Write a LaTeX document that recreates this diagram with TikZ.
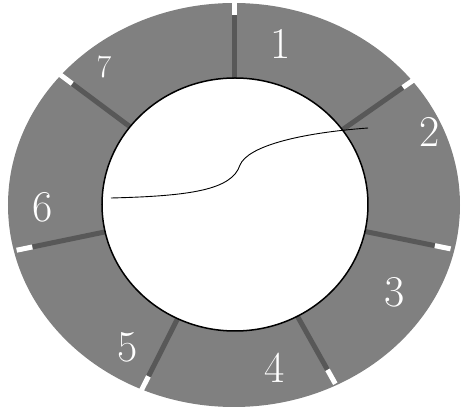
\documentclass[tikz,border=0pt]{standalone}
\usepackage{tikz}
\definecolor{ringgrey}{RGB}{128,128,128}
\definecolor{bandgrey}{RGB}{88,88,88}

\begin{document}
\begin{tikzpicture}[
      x=1pt, y=1pt,
      seglabel/.style={text=white, inner sep=0pt, font=\fontsize{44}{44}\selectfont},
      band/.style={draw=bandgrey, line width=5pt},
      notch/.style={draw=white, line width=5pt},
      hole/.style={fill=white, draw=black, line width=1.5pt},
      wire/.style={draw=black, line width=0.9pt},
    ]
    \useasboundingbox (-235,-207) rectangle (226,205);

    % ring and the cuts between the seven parts
    \fill[ringgrey] (-1,0) ellipse [x radius=226, y radius=202];
    \foreach \a/\r in {90/202, 35/217, -11.5/216, -60.7/201, -116.8/204, 191.7/219, 143.3/215}{
      \draw[band] ({\a}:100) -- ({\a}:{\r-12});
      \draw[notch] ({\a}:{\r-12}) -- ({\a}:{\r+4});
    }
    \draw[hole] (0,0.5) ellipse [x radius=133, y radius=126.5];

    % curve across the hole
    \coordinate (wstart) at (-124,7);
    \coordinate (wmid) at (5,40);
    \coordinate (wend) at (133,77);
    \draw[wire] (wstart) .. controls (-45,9) and (-3,15) .. (wmid)
      .. controls (13,59) and (65,72) .. (wend);

    \node[seglabel] (s1) at (46,161) {1};
    \node[seglabel] (s2) at (195,73) {2};
    \node[seglabel] (s3) at (160,-87) {3};
    \node[seglabel] (s4) at (40,-163) {4};
    \node[seglabel] (s5) at (-107,-142) {5};
    \node[seglabel] (s6) at (-192,-2) {6};
    \node[seglabel, font=\fontsize{32}{32}\selectfont] (s7) at (-131,138) {7};
  \end{tikzpicture}
\end{document}
